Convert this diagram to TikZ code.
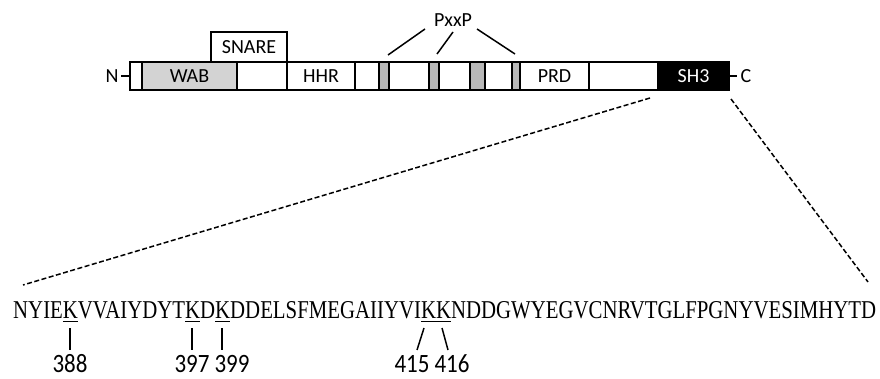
\documentclass[tikz,border=0pt]{standalone}
\usepackage{fontspec}
\usepackage{graphicx}
\setmainfont{Carlito}
\newfontfamily\seqfont{Liberation Serif}
\newcommand\myul[1]{\setbox0\hbox{#1}\rlap{\rule[-3.6pt]{\wd0}{1.2pt}}\box0}
\newcommand\tallnum[1]{\scalebox{1}[1.15]{#1}}
\definecolor{wabgray}{HTML}{D3D3D3}
\definecolor{pgray}{HTML}{B8B8B8}
\tikzset{
  seg/.style={draw, line width=1.8pt, minimum height=28pt, inner sep=0pt, outer sep=0pt,
    anchor=west, font=\fontsize{20}{24}\selectfont},
  lbl/.style={inner sep=2.5pt, font=\fontsize{20}{24}\selectfont},
  num/.style={inner sep=0pt, anchor=base, font=\fontsize{23}{27}\selectfont},
  thinline/.style={line width=1.5pt},
  dashline/.style={line width=1.5pt, dash pattern=on 5pt off 2.5pt}
}
\begin{document}
\begin{tikzpicture}[x=1pt,y=-1pt]
\useasboundingbox (0,0) rectangle (880,379);
% bar
\node[seg, minimum width=12pt] (s0) at (130,76) {};
\node[seg, fill=wabgray, minimum width=95pt] (wab) at (142,76) {WAB};
\node[seg, minimum width=50pt] (s2) at (237,76) {};
\node[seg, minimum width=68pt] (hhr) at (287,76) {HHR};
\node[seg, minimum width=24pt] (s4) at (355,76) {};
\node[seg, fill=pgray, minimum width=10pt] (g1) at (379,76) {};
\node[seg, minimum width=40pt] (s5) at (389,76) {};
\node[seg, fill=pgray, minimum width=10pt] (g2) at (429,76) {};
\node[seg, minimum width=31pt] (s6) at (439,76) {};
\node[seg, fill=pgray, minimum width=15pt] (g3) at (470,76) {};
\node[seg, minimum width=27pt] (s7) at (485,76) {};
\node[seg, fill=pgray, minimum width=8pt] (g4) at (512,76) {};
\node[seg, minimum width=69pt] (prd) at (520,76) {PRD};
\node[seg, minimum width=69pt] (s8) at (589,76) {};
\node[seg, fill=black, text=white, minimum width=71pt] (sh3) at (658,76) {SH3};
\node[seg, minimum width=76pt, minimum height=30pt] (snare) at (211,47) {SNARE};
% termini
\node[lbl] (nlab) at (112,76) {N};
\node[lbl, inner sep=3.5pt] (clab) at (746,76) {C};
\draw[thinline] (nlab.east) -- (s0.west);
\draw[thinline] (sh3.east) -- (clab.west);
% PxxP
\node[lbl] (pxxp) at (453,20) {PxxP};
\draw[thinline] ([shift={(-28,9)}]pxxp.center) -- ([shift={(4,-7)}]g1.north);
\draw[thinline] ([shift={(0,12)}]pxxp.center) -- ([shift={(3,-8)}]g2.north);
\draw[thinline] ([shift={(24,9)}]pxxp.center) -- ([shift={(-1,-8)}]g4.north);
% zoom lines
\coordinate (dl) at (23,285);
\coordinate (dr) at (868,282);
\draw[dashline] ([shift={(-8,8)}]sh3.south west) -- (dl);
\draw[dashline] ([shift={(2,9)}]sh3.south east) -- (dr);
% sequence
\node[anchor=base west, inner sep=0pt] (seq) at (13,318)
  {\resizebox{863pt}{17pt}{\fontsize{22}{26}\seqfont NYIE\myul{K}VVAIYDYT\myul{K}D\myul{K}DDELSFMEGAIIYVI\myul{KK}NDDGWYEGVCNRVTGLFPGNYVESIMHYTD}};
% residue labels
\node[num] (n388) at (70,372) {\tallnum{388}};
\node[num] (n397) at (192,372) {\tallnum{397}};
\node[num] (n399) at (232,372) {\tallnum{399}};
\node[num] (n415) at (412,372) {\tallnum{415}};
\node[num] (n416) at (452,372) {\tallnum{416}};
\coordinate (t388) at (70,328);  \coordinate (b388) at (70,350);
\coordinate (t397) at (192,328); \coordinate (b397) at (192,350);
\coordinate (t399) at (222,328); \coordinate (b399) at (222,350);
\coordinate (t415) at (424,328); \coordinate (b415) at (417,350);
\coordinate (t416) at (442,328); \coordinate (b416) at (448,350);
\draw[thinline] (t388) -- (b388);
\draw[thinline] (t397) -- (b397);
\draw[thinline] (t399) -- (b399);
\draw[thinline] (t415) -- (b415);
\draw[thinline] (t416) -- (b416);
\end{tikzpicture}
\end{document}
